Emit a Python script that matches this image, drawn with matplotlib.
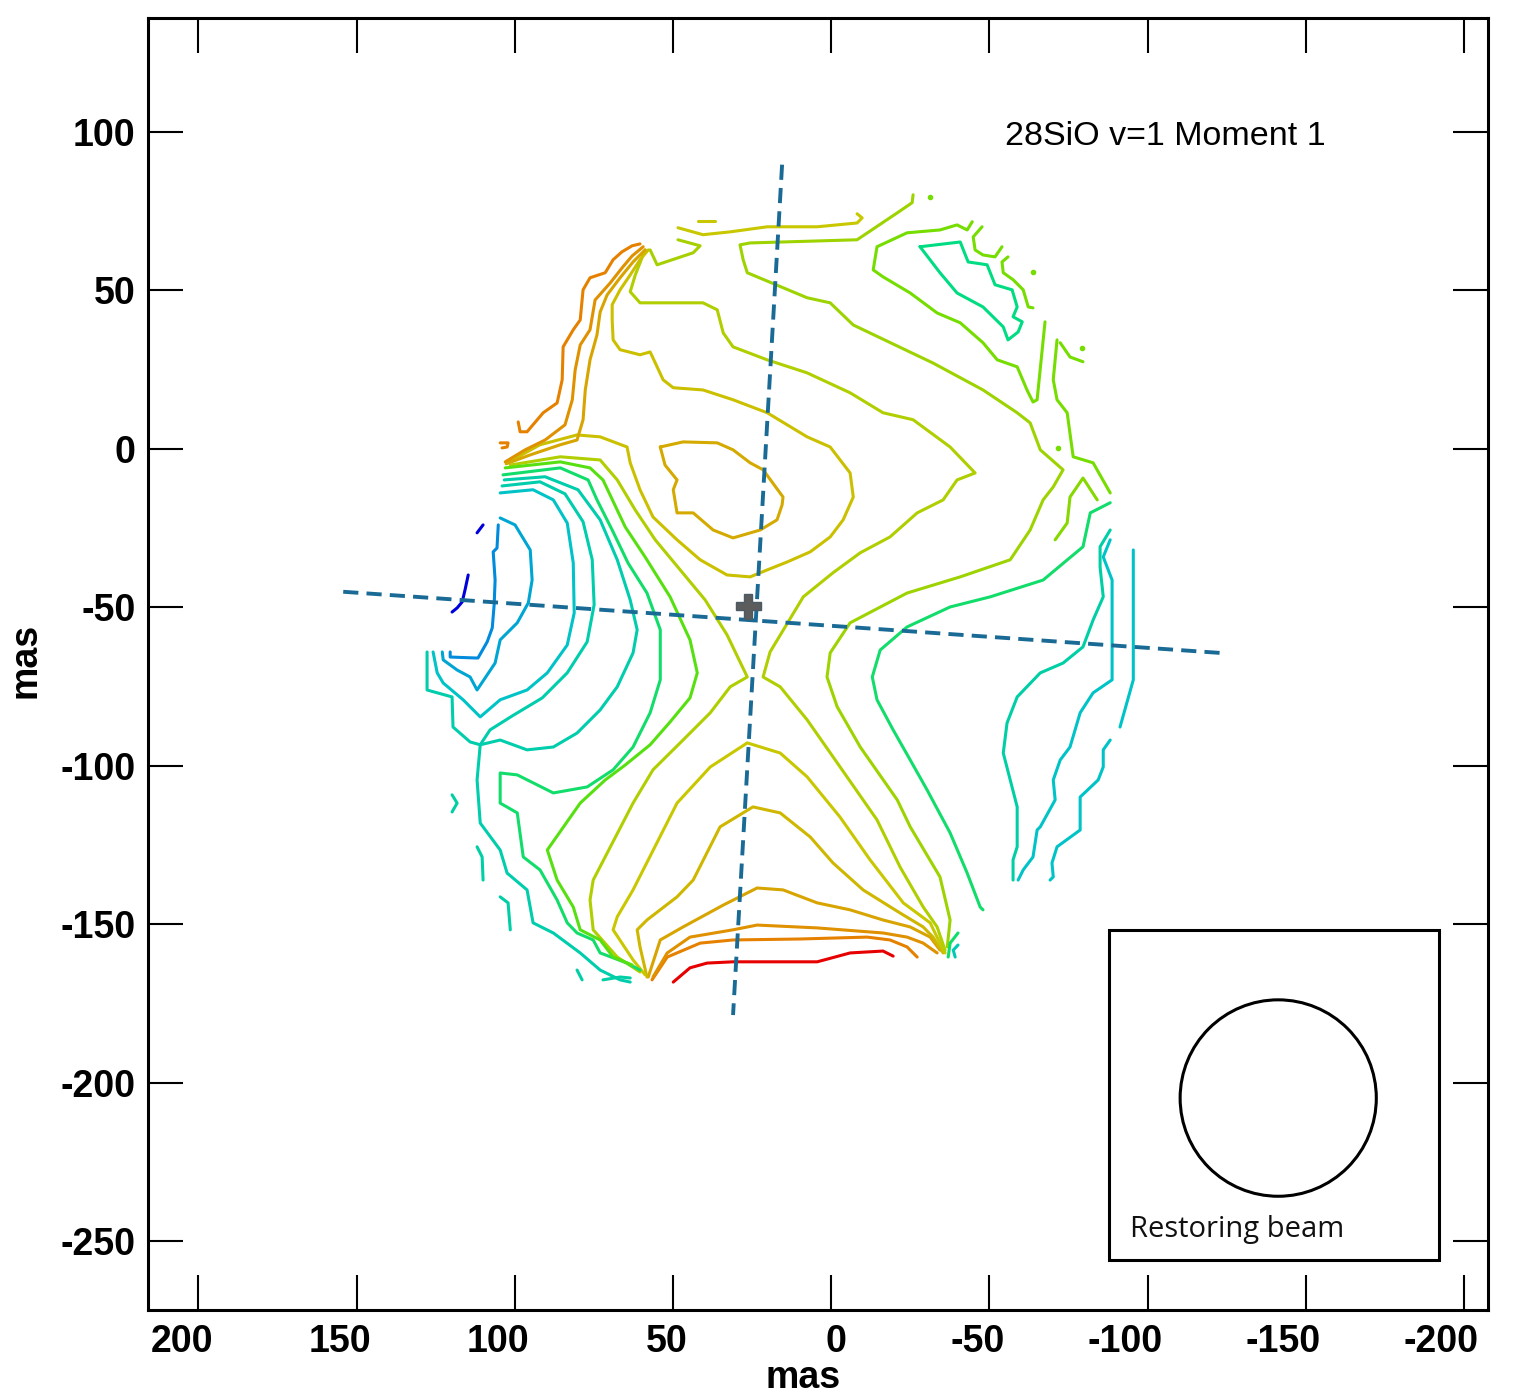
import matplotlib
matplotlib.use("Agg")
import matplotlib.pyplot as plt
from matplotlib.colors import LinearSegmentedColormap, Normalize
from matplotlib.patches import Rectangle, Circle
from matplotlib.transforms import ScaledTranslation

# ---------------------------------------------------------------------------
# Moment-1 contour lines, offsets in mas (x = RA offset, y = Dec offset).
# Each contour: ([x ...], [y ...]); its level index is given further below.
# ---------------------------------------------------------------------------
bottom_red = ([49.9, 44.6, 39.2, 31.0, 9.8, 4.4, -6.0, -16.4, -19.6],
              [-168.3, -163.8, -162.3, -161.9, -161.9, -161.9, -159.1, -158.5, -160.1])
bottom_orange = ([56.6, 51.8, 41.4, 31.0, 9.8, -11.4, -18.6, -24.0, -27.2],
                 [-167.6, -160.4, -156.0, -155.0, -154.7, -154.1, -155.0, -157.2, -160.4])
bottom_gold = ([56.3, 51.8, 44.6, 31.0, 23.4, 4.4, -16.4, -24.0, -29.1, -33.5],
               [-166.7, -159.1, -154.1, -151.8, -150.3, -151.2, -152.8, -154.1, -156.0, -159.1])
bottom_olive = ([57.8, 54.0, 46.8, 34.1, 23.4, 15.2, 4.4, -6.0, -16.4, -25.0, -31.3, -34.4],
                [-166.7, -155.0, -150.9, -144.0, -138.6, -139.2, -143.3, -145.5, -148.7, -150.9, -154.1, -158.2])
arch_inner = ([58.2, 60.4, 61.3, 58.2, 48.7, 43.6, 35.1, 24.7, 16.1, 6.6, -0.6, -10.1, -21.8, -29.1, -32.2, -35.4],
              [-166.7, -157.2, -151.8, -148.7, -141.4, -136.1, -119.3, -113.0, -114.9, -122.5, -130.7, -139.2,
               -146.5, -150.9, -154.1, -159.1])
arch_outer = ([58.8, 62.6, 68.9, 67.6, 62.6, 48.7, 38.2, 26.5, 16.1, 7.6, -2.8, -12.3, -22.8, -31.3, -34.4, -36.0],
              [-166.0, -161.3, -151.8, -147.7, -139.2, -111.8, -100.4, -92.8, -96.0, -103.5, -116.2, -129.7,
               -143.3, -149.6, -156.0, -159.1])
saddle_left = ([101.4, 85.6, 73.0, 67.6, 61.9, 55.6, 47.7, 39.8, 32.9, 26.5, 31.9, 38.2, 46.8, 56.3, 62.6,
                75.2, 76.2, 75.2, 67.6, 60.4],
               [-5.1, -2.5, -3.5, -9.8, -19.3, -28.7, -38.2, -47.7, -58.7, -72.0, -75.1, -83.3, -91.9, -101.3,
                -111.8, -136.1, -142.4, -151.8, -160.4, -165.1])
saddle_right = ([58.8, 61.9, 63.5, 60.4, 40.5, 36.0, 34.1, 31.0, 20.2, 7.6, -6.0, -16.4, -25.9, -37.6, -45.5,
                 -39.8, -35.4, -27.2, -18.6, -9.2, -0.6, 8.8, 19.3, 21.5, 16.1, 7.6, -0.6, -10.1, -14.5, -21.8,
                 -29.1, -33.5, -36.0],
                [62.8, 54.9, 49.6, 46.1, 46.1, 43.9, 36.6, 32.2, 28.1, 24.0, 17.7, 11.4, 9.2, 0.6, -7.6,
                 -9.8, -16.1, -20.2, -27.8, -32.8, -39.1, -46.7, -64.1, -72.0, -75.1, -85.5, -97.2, -110.8,
                 -117.1, -132.0, -144.6, -150.9, -158.2])
core_loop = ([54.0, 46.8, 36.0, 31.0, 25.6, 21.5, 15.2, 15.5, 17.1, 22.4, 31.0, 37.3, 43.6, 48.7, 49.9, 48.7,
              52.5, 54.0],
             [0.6, 2.2, 1.9, -0.3, -4.4, -6.6, -15.2, -17.7, -22.4, -25.6, -28.1, -25.6, -20.2, -20.2, -12.9,
              -9.8, -5.1, 0.6])
core_wrap = ([102.4, 92.0, 80.3, 73.0, 64.5, 63.5, 60.4, 56.3, 48.7, 41.4, 32.9, 25.6, 20.2, 13.9, 6.6, 0.3,
              -3.8, -7.0, -6.0, 0.3, 7.6, 20.2, 31.0, 40.5, 49.9, 53.1, 55.0, 57.2, 60.4, 66.7, 68.9, 69.2,
              69.2, 66.7, 63.5, 60.4, 57.8],
             [-4.4, 1.3, 4.4, 3.8, 0.6, -4.4, -12.9, -21.5, -28.7, -35.0, -39.8, -40.4, -38.2, -35.7, -32.5,
              -27.8, -22.4, -15.2, -7.6, 0.6, 3.8, 11.4, 15.5, 18.6, 19.3, 21.8, 25.9, 30.6, 29.7, 31.3, 34.4,
              40.7, 45.5, 50.2, 54.9, 59.7, 62.8])
top_hook = ([48.4, 41.4, 43.6, 55.0, 57.2],
            [66.0, 64.1, 61.9, 58.1, 62.8])
top_ridge = ([48.4, 40.5, 31.9, 20.2, 4.4, -8.2, -9.8, -8.2],
             [69.8, 67.6, 68.5, 70.1, 70.1, 71.3, 72.9, 74.2])
top_piece = ([42.0, 36.7], [72.0, 72.0])
north_arc = ([-25.9, -25.6, -20.9, -8.2, 25.6, 28.8, 27.8, 26.5, 7.6, 0.3, -7.0, -32.2, -48.0, -58.8, -62.9,
              -66.1, -73.3, -70.2, -67.0, -62.9, -56.6, -40.8, -24.0, -6.0, 0.3, 1.3, -1.9, -9.2, -20.9,
              -25.0, -34.4, -37.6, -36.7],
             [80.2, 77.7, 74.5, 66.0, 65.0, 64.4, 59.7, 55.6, 47.7, 46.1, 39.1, 27.1, 18.6, 11.4, 8.2, -0.3,
              -6.6, -12.0, -16.1, -25.6, -35.0, -40.4, -45.5, -54.9, -64.4, -72.0, -81.4, -94.1, -110.8,
              -119.3, -135.1, -148.7, -157.2])
east_hook = ([-84.1, -79.6, -75.5, -74.6, -70.8],
             [-16.1, -9.2, -15.2, -23.4, -28.7])
east_green = ([-88.2, -81.9, -79.6, -67.0, -50.3, -37.6, -24.0, -15.5, -13.0, -14.5, -19.6, -25.0, -30.3,
               -37.6, -43.0, -47.1, -48.0],
              [-17.0, -20.2, -30.9, -41.4, -46.7, -49.9, -56.2, -63.5, -72.0, -79.2, -88.7, -98.2, -107.6,
               -121.2, -133.9, -144.6, -145.5])
east_teal = ([-88.2, -85.0, -85.0, -86.0, -82.8, -79.6, -73.3, -66.1, -58.8, -55.6, -54.4, -56.6, -58.8,
              -58.8, -57.5, -57.5],
             [-25.6, -30.9, -37.3, -46.7, -54.0, -62.5, -67.6, -70.7, -78.3, -86.5, -96.0, -104.5, -113.0,
              -125.6, -129.7, -136.1])
east_cyan = ([-88.2, -86.0, -88.8, -88.8, -82.8, -78.7, -75.5, -72.4, -70.2, -70.8, -66.1, -65.1, -63.8,
              -60.7, -59.1],
             [-28.7, -34.1, -41.4, -72.9, -77.0, -83.3, -94.1, -98.2, -104.5, -110.8, -119.3, -120.3, -128.8,
              -132.9, -136.1])
east_edge_a = ([-95.5, -95.5, -91.3], [-31.9, -72.9, -87.8])
east_edge_b = ([-88.2, -86.0, -86.0, -84.4, -78.7, -78.7, -71.4, -69.8, -70.2, -69.2],
               [-91.9, -95.0, -100.4, -104.5, -109.9, -120.3, -125.6, -130.7, -135.1, -136.1])
se_bit_a = ([-40.1, -37.6, -37.0], [-152.8, -156.0, -160.4])
se_bit_b = ([-40.1, -38.6, -39.2], [-156.6, -158.2, -160.4])
ne_loop = ([-28.1, -40.8, -43.3, -49.3, -51.8, -57.2, -58.8, -57.5, -60.4, -59.1, -55.9, -54.4, -48.0, -39.8,
            -34.4, -28.1],
           [63.8, 65.3, 59.0, 58.1, 51.8, 50.2, 44.8, 41.7, 40.1, 36.9, 34.4, 38.5, 44.8, 49.2, 55.6, 63.8])
ne_green = ([-44.6, -43.0, -39.8, -34.4, -24.0, -14.5, -13.3, -16.4, -25.0, -33.5, -40.8, -48.0, -52.5, -58.8,
             -61.9, -63.8, -65.1, -67.6],
            [71.7, 69.1, 70.7, 69.1, 68.2, 63.8, 56.5, 54.3, 49.2, 42.9, 39.8, 33.5, 28.1, 25.9, 18.6, 14.8,
             15.5, 40.1])
ne_piece_a = ([-47.7, -44.9, -45.5, -48.0, -51.8, -54.0], [70.1, 66.9, 62.8, 61.2, 60.6, 63.8])
ne_piece_b = ([-55.9, -54.0, -54.4, -57.5, -60.7, -62.3, -63.8], [60.6, 59.0, 55.6, 53.4, 50.2, 44.8, 44.5])
ne_piece_c = ([-72.4, -75.5, -79.6], [33.5, 29.0, 27.5])
east_ridge = ([-71.4, -70.2, -71.4, -74.6, -76.5, -82.8, -88.2], [34.4, 21.8, 15.5, 11.4, -2.5, -4.4, -13.9])
# isolated single-pixel specks of the green level
speck_x = [-31.3, -63.8, -79.3, -71.7]
speck_y = [79.6, 55.9, 31.9, 0.3]

west_blue_a = ([110.0, 111.9], [-24.0, -26.5])
west_blue_b = ([114.7, 115.7, 116.6, 118.2, 119.8], [-39.8, -44.5, -48.3, -50.2, -51.5])
west_arc1 = ([105.2, 105.6, 106.8, 106.2, 106.5, 107.1, 108.7, 111.6, 112.5, 120.4, 120.4],
             [-24.0, -31.3, -32.5, -41.4, -49.2, -56.5, -60.9, -66.0, -66.0, -65.7, -64.1])
west_arc2 = ([104.6, 99.9, 95.1, 94.5, 95.7, 99.2, 104.6, 106.2, 111.9, 114.1, 118.2, 122.6, 122.9],
             [-21.8, -24.0, -31.9, -41.4, -48.6, -54.9, -60.3, -67.6, -76.1, -72.0, -69.8, -66.6, -64.1])
west_arc3 = ([104.6, 94.2, 87.8, 83.4, 81.5, 81.2, 83.4, 89.7, 96.1, 104.6, 110.9, 116.3, 122.6, 124.5, 125.8],
             [-13.9, -12.9, -16.1, -23.4, -36.0, -51.8, -61.9, -70.7, -76.1, -79.2, -84.6, -79.2, -73.9, -70.7,
              -64.1])
west_arc4 = ([104.0, 92.0, 84.1, 78.4, 75.5, 74.9, 77.1, 83.4, 91.3, 100.8, 107.8, 110.9, 114.1, 119.5, 119.8,
              127.7, 127.7],
             [-11.7, -10.4, -14.2, -23.0, -35.0, -49.2, -60.9, -70.7, -78.6, -84.3, -88.7, -93.4, -92.5, -87.8,
              -78.3, -76.1, -64.1])
west_arc4b = ([103.3, 90.4, 80.0, 73.0, 67.6, 63.5, 61.3, 62.6, 67.6, 73.0, 80.3, 87.8, 96.1, 104.6, 110.9,
               111.9, 110.9, 104.6, 102.4, 96.1, 94.2, 87.8, 79.3, 73.0, 66.7, 63.5],
              [-9.8, -8.8, -12.9, -22.4, -35.0, -47.7, -57.1, -64.4, -75.1, -82.4, -89.7, -94.1, -95.0, -91.9,
               -93.4, -104.5, -118.1, -126.6, -133.9, -139.2, -149.6, -152.8, -159.1, -164.5, -167.6, -168.3])
west_arc5 = ([103.7, 85.6, 76.8, 74.0, 69.2, 64.2, 58.2, 54.0, 54.0, 57.2, 62.6, 68.9, 77.1, 87.8, 99.2, 104.6,
              104.6, 99.2, 97.3, 92.0, 86.6, 83.4, 80.3, 75.2, 73.0, 64.5, 60.4],
             [-8.2, -6.0, -9.8, -16.1, -25.6, -36.0, -45.5, -57.1, -72.9, -83.3, -94.1, -101.3, -106.7, -108.6,
              -102.9, -102.3, -111.8, -114.9, -128.8, -132.9, -142.4, -149.6, -152.8, -155.0, -159.1, -162.3,
              -164.5])
west_arc6 = ([103.0, 85.6, 76.2, 72.1, 65.1, 58.8, 50.9, 44.6, 42.3, 44.6, 50.9, 57.2, 65.1, 71.4, 79.3, 89.7,
              86.6, 81.5, 79.3, 73.0, 68.9, 62.9],
             [-6.0, -4.1, -6.0, -9.8, -24.6, -34.1, -46.7, -60.3, -70.7, -78.6, -86.2, -93.4, -99.8, -104.5,
              -111.8, -126.6, -136.1, -144.6, -151.8, -155.0, -160.4, -162.9])
west_bits = [([119.8, 118.2, 119.8], [-109.2, -111.8, -114.6]),
             ([111.9, 110.3, 110.0], [-125.6, -128.8, -136.1]),
             ([104.6, 102.1, 101.4], [-141.4, -143.3, -151.8]),
             ([80.3, 78.7], [-164.5, -167.6]),
             ([72.1, 66.7, 63.5], [-167.6, -166.7, -167.0])]
nw_orange = ([98.9, 98.3, 96.1, 91.0, 86.6, 85.0, 84.7, 81.5, 79.3, 78.4, 76.2, 71.4, 68.9, 66.1, 62.9, 60.4],
             [8.5, 5.4, 5.4, 11.4, 14.5, 21.8, 32.2, 37.6, 40.7, 50.2, 54.0, 55.6, 59.7, 62.2, 64.1, 64.7])
nw_gold = ([103.0, 96.7, 90.4, 84.1, 81.8, 80.9, 79.3, 76.2, 74.6, 69.8, 66.1, 62.9, 59.4],
           [-4.1, -0.3, 2.8, 7.6, 15.5, 24.9, 32.8, 37.6, 47.0, 52.4, 57.1, 60.9, 63.8])
nw_olive = ([102.7, 95.1, 85.6, 80.3, 78.4, 77.7, 76.2, 74.0, 73.0, 70.8, 66.7, 62.6, 58.8],
            [-4.7, -1.9, 1.3, 2.8, 9.2, 18.6, 28.1, 36.0, 43.2, 48.6, 54.0, 59.0, 62.8])
nw_bit = ([104.6, 102.1, 102.4, 104.0], [1.9, 1.9, 0.6, 0.3])

# (level, contour) pairs; level 0 = most blueshifted, 19 = most redshifted
contour_levels = [
    (19, bottom_red), (16, bottom_orange), (15.3, bottom_gold), (14.5, bottom_olive),
    (13.7, arch_inner), (13, arch_outer), (12.3, saddle_left), (12.3, saddle_right),
    (14.3, core_loop), (13.3, core_wrap), (12, top_hook), (13, top_ridge), (13, top_piece),
    (11.7, north_arc), (11, east_hook), (7.5, east_green), (6, east_teal), (5, east_cyan),
    (5, east_edge_a), (5, east_edge_b), (7.5, se_bit_a), (5.5, se_bit_b),
    (7, ne_loop), (10.5, ne_green), (10.5, ne_piece_a),
    (10.5, ne_piece_b), (10.5, ne_piece_c), (10.5, east_ridge),
    (0, west_blue_a), (0, west_blue_b), (3, west_arc1), (4, west_arc2), (5, west_arc3),
    (5.8, west_arc4), (5.8, west_arc4b), (7.5, west_arc5), (9.6, west_arc6),
    (16, nw_orange), (15.3, nw_gold), (14.5, nw_olive), (16, nw_bit),
] + [(6, b) for b in west_bits]

# Kinematic axes through the star and the position of the star
axis_major_x = [154.2, -122.9]
axis_major_y = [-45.1, -64.4]
axis_minor_x = [15.5, 31.0]
axis_minor_y = [89.7, -178.7]
star_x, star_y = 26.2, -49.6

# Restoring beam (circular), centre and radius in mas
beam_x, beam_y, beam_r = -141.3, -204.9, 31.0
beam_box = (-192.1, -256.0, 104.3, 104.2)

x_ticks = [200, 150, 100, 50, 0, -50, -100, -150, -200]
y_ticks = [100, 50, 0, -50, -100, -150, -200, -250]

# ---------------------------------------------------------------------------
cmap = LinearSegmentedColormap.from_list(
    "velocity",
    [(0.0, "#0000dc"), (3 / 19, "#008cdc"), (5 / 19, "#00c3c8"), (7 / 19, "#00dc82"),
     (10 / 19, "#64e100"), (13 / 19, "#c8c800"), (16 / 19, "#e68200"), (1.0, "#e60000")])
norm = Normalize(0, 19)

fig = plt.figure(figsize=(15.21, 13.95), dpi=100)
ax = fig.add_axes([148 / 1521, 85 / 1395, 1340 / 1521, 1292 / 1395])

for lev, (cx, cy) in contour_levels:
    ax.plot(cx, cy, color=cmap(norm(lev)), lw=2.2, solid_joinstyle="round", solid_capstyle="round", zorder=2)
ax.plot(speck_x, speck_y, ls="none", marker="o", ms=3, color=cmap(norm(10.5)), zorder=2)

dash_col = "#1a6a96"
ax.plot(axis_major_x, axis_major_y, color=dash_col, lw=2.8, dashes=(3.9, 2.1), zorder=3)
ax.plot(axis_minor_x, axis_minor_y, color=dash_col, lw=2.8, dashes=(3.9, 2.1), zorder=3)
ax.plot([star_x], [star_y], marker="P", ms=18, color="#5c5c5c", mec="#4a5a66", mew=1.0, zorder=4)

bx, by, bw, bh = beam_box
ax.add_patch(Rectangle((bx, by), bw, bh, fill=False, ec="black", lw=2.2, zorder=4))
ax.add_patch(Circle((beam_x, beam_y), beam_r, fill=False, ec="black", lw=2.2, zorder=4))
ax.text(-94.5, -248.7, "Restoring beam", ha="left", va="baseline", fontsize=21,
        family="Open Sans", color="#111111", zorder=5)

ax.text(-55.0, 98.5, "28SiO v=1 Moment 1", ha="left", va="center", fontsize=24.5,
        family="Liberation Sans", color="black")

ax.set_xlim(215.9, -207.6)
ax.set_ylim(-271.8, 136.0)
ax.set_xticks(x_ticks)
ax.set_yticks(y_ticks)
ax.set_xticklabels([str(v) for v in x_ticks])
ax.set_yticklabels([str(v) for v in y_ticks])
ax.tick_params(which="major", direction="in", length=25, width=1.5, top=True, right=True,
               labelsize=27, pad=10)
ax.tick_params(axis="y", pad=9)
for lab in ax.get_xticklabels() + ax.get_yticklabels():
    lab.set_fontweight("bold")
    lab.set_family("Liberation Sans")
for lab in ax.get_xticklabels():
    lab.set_ha("right")
    lab.set_transform(lab.get_transform() + ScaledTranslation(0.15, 0, fig.dpi_scale_trans))
for sp in ax.spines.values():
    sp.set_linewidth(2.2)

fig.text(803 / 1521, 1 - 1378 / 1395, "mas", ha="center", va="center", fontsize=27,
         fontweight="bold", family="Liberation Sans")
fig.text(25 / 1521, 1 - 660 / 1395, "mas", ha="center", va="center", rotation=90, fontsize=27,
         fontweight="bold", family="Liberation Sans")

fig.savefig("out.png", dpi=100, facecolor="white")
